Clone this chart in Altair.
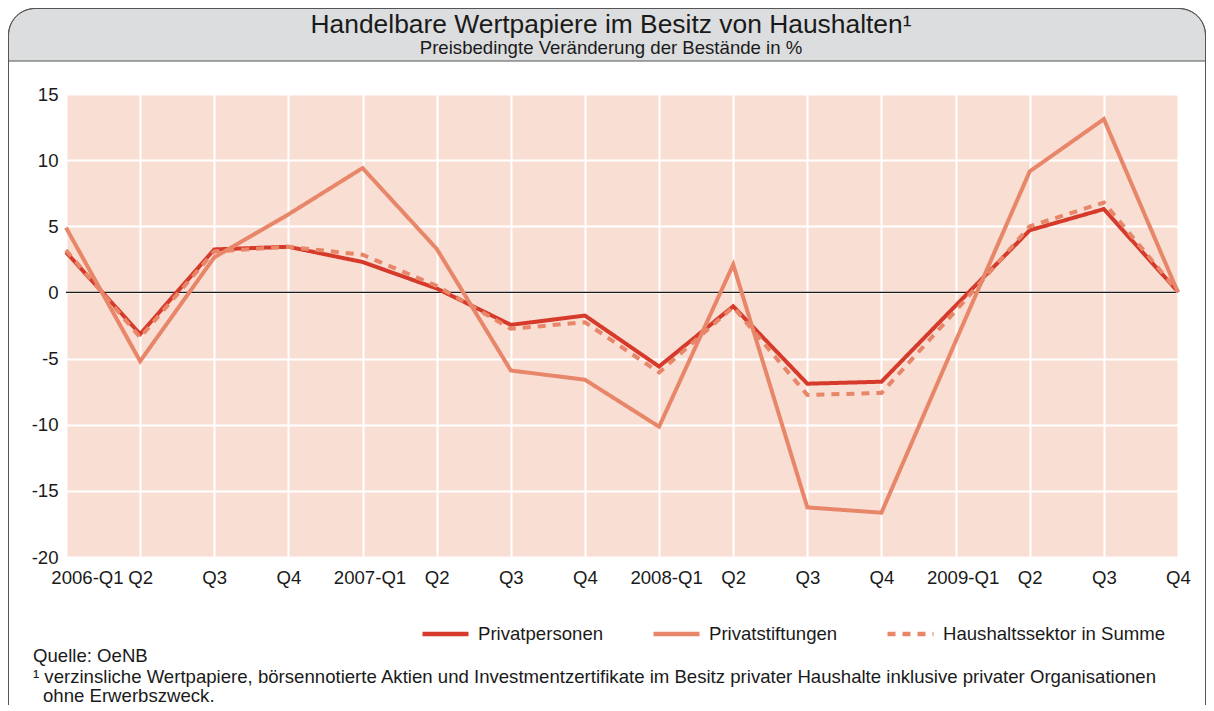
import altair as alt
import pandas as pd

# ---------------- data ----------------
quarters = ["2006-Q1", "2006-Q2", "2006-Q3", "2006-Q4",
            "2007-Q1", "2007-Q2", "2007-Q3", "2007-Q4",
            "2008-Q1", "2008-Q2", "2008-Q3", "2008-Q4",
            "2009-Q1", "2009-Q2", "2009-Q3", "2009-Q4"]
quarter_labels = ["2006-Q1", "Q2", "Q3", "Q4",
                  "2007-Q1", "Q2", "Q3", "Q4",
                  "2008-Q1", "Q2", "Q3", "Q4",
                  "2009-Q1", "Q2", "Q3", "Q4"]
privatpersonen = [3.05, -3.15, 3.25, 3.45, 2.3, 0.3, -2.45, -1.75,
                  -5.6, -1.05, -6.9, -6.75, -1.0, 4.7, 6.3, 0.05]
privatstiftungen = [4.9, -5.2, 2.65, 5.9, 9.4, 3.3, -5.9, -6.6,
                    -10.15, 2.1, -16.25, -16.65, -3.7, 9.15, 13.1, 0.0]
haushaltssektor = [3.2, -3.4, 3.1, 3.45, 2.85, 0.5, -2.75, -2.25,
                   -6.05, -1.1, -7.75, -7.6, -1.4, 5.0, 6.8, 0.05]
series_names = ["Privatpersonen", "Privatstiftungen", "Haushaltssektor in Summe"]
series_colors = ["#D63A2A", "#E8866A", "#E8866A"]
series_dashes = [[1, 0], [1, 0], [8, 7]]
y_ticks = [-20, -15, -10, -5, 0, 5, 10, 15]

title_text = "Handelbare Wertpapiere im Besitz von Haushalten¹"
subtitle_text = "Preisbedingte Veränderung der Bestände in %"
source_text = "Quelle: OeNB"
note_line1 = "¹ verzinsliche Wertpapiere, börsennotierte Aktien und Investmentzertifikate im Besitz privater Haushalte inklusive privater Organisationen"
note_line2 = "ohne Erwerbszweck."

FONT = "Liberation Sans"
FS = 18.6

rows = []
for name, vals in zip(series_names, [privatpersonen, privatstiftungen, haushaltssektor]):
    for q, v in zip(quarters, vals):
        rows.append({"Quartal": q, "Wert": v, "Reihe": name})
df = pd.DataFrame(rows)

label_map = "{" + ",".join(f"'{q}':'{l}'" for q, l in zip(quarters, quarter_labels)) + "}"

one = pd.DataFrame({"k": [0]})

# ---------------- decoration (frame and title band) ----------------
band = alt.Chart(one).mark_rect(
    fill="#DCDDDE", stroke="#555555", strokeWidth=1,
    cornerRadiusTopLeft=27, cornerRadiusTopRight=27
).encode(x=alt.value(-57.5), x2=alt.value(1139.5),
         y=alt.value(-85.5), y2=alt.value(-33))

frame = alt.Chart(one).mark_rect(
    fill=None, filled=False, stroke="#555555", strokeWidth=1,
    cornerRadiusTopLeft=27, cornerRadiusTopRight=27
).encode(x=alt.value(-57.5), x2=alt.value(1139.5),
         y=alt.value(-85.5), y2=alt.value(720))

title = alt.Chart(pd.DataFrame({"t": [title_text]})).mark_text(
    font=FONT, fontSize=26.4, color="#1a1a1a", align="center", baseline="alphabetic"
).encode(text="t:N", x=alt.value(545), y=alt.value(-61))

subtitle = alt.Chart(pd.DataFrame({"t": [subtitle_text]})).mark_text(
    font=FONT, fontSize=FS, color="#1a1a1a", align="center", baseline="alphabetic"
).encode(text="t:N", x=alt.value(545), y=alt.value(-40))

source = alt.Chart(pd.DataFrame({"t": [source_text]})).mark_text(
    font=FONT, fontSize=FS, color="#1a1a1a", align="left", baseline="alphabetic"
).encode(text="t:N", x=alt.value(-33), y=alt.value(568))

note1 = alt.Chart(pd.DataFrame({"t": [note_line1]})).mark_text(
    font=FONT, fontSize=FS, color="#1a1a1a", align="left", baseline="alphabetic"
).encode(text="t:N", x=alt.value(-33), y=alt.value(588.5))

note2 = alt.Chart(pd.DataFrame({"t": [note_line2]})).mark_text(
    font=FONT, fontSize=FS, color="#1a1a1a", align="left", baseline="alphabetic"
).encode(text="t:N", x=alt.value(-23), y=alt.value(608))

# ---------------- plot ----------------
zero = alt.Chart(pd.DataFrame({"y": [0]})).mark_rule(color="#1a1a1a", strokeWidth=1.2).encode(
    y=alt.Y("y:Q", scale=alt.Scale(domain=[-20, 15]))
)

legend_cfg = dict(title=None, orient="none", legendX=354, legendY=514,
                  direction="horizontal", symbolType="stroke",
                  symbolSize=2116, symbolStrokeWidth=4.5,
                  labelFont=FONT, labelFontSize=FS, labelColor="#1a1a1a",
                  labelLimit=400, labelOffset=7, columnPadding=40)

lines = alt.Chart(df).mark_line(strokeWidth=4, strokeJoin="miter", strokeCap="butt").encode(
    x=alt.X("Quartal:N", sort=quarters, title=None,
            scale=alt.Scale(type="point", padding=0, domain=quarters),
            axis=alt.Axis(labelExpr=f"{label_map}[datum.value]",
                          labelOffset=alt.ExprRef(
                              "datum.value == '2006-Q1' ? 21 : (slice(datum.value, 5) == 'Q1' ? 7 : 0)"),
                          grid=True, gridColor="white", gridWidth=2,
                          ticks=False, domain=False, labelAngle=0,
                          labelFont=FONT, labelFontSize=FS, labelColor="#1a1a1a",
                          labelPadding=11)),
    y=alt.Y("Wert:Q", title=None,
            scale=alt.Scale(domain=[-20, 15], nice=False, zero=False),
            axis=alt.Axis(values=y_ticks, labelExpr="datum.value + ''",
                          grid=True, gridColor="white", gridWidth=2,
                          ticks=False, domain=False,
                          labelFont=FONT, labelFontSize=FS, labelColor="#1a1a1a",
                          labelPadding=8)),
    color=alt.Color("Reihe:N", sort=series_names,
                    scale=alt.Scale(domain=series_names, range=series_colors),
                    legend=alt.Legend(**legend_cfg)),
    strokeDash=alt.StrokeDash("Reihe:N", sort=series_names,
                              scale=alt.Scale(domain=series_names, range=series_dashes),
                              legend=alt.Legend(**legend_cfg)),
)

chart = alt.layer(band, frame, zero, lines, title, subtitle, source, note1, note2).properties(
    width=1112, height=463,
    padding={"left": 58, "top": 86, "right": 28, "bottom": 148},
    autosize=alt.AutoSizeParams(type="none"),
    background="white",
).configure_view(fill="#F9DED3", stroke=None)

chart.save("out.html", embed_options={"renderer": "svg", "actions": False})
